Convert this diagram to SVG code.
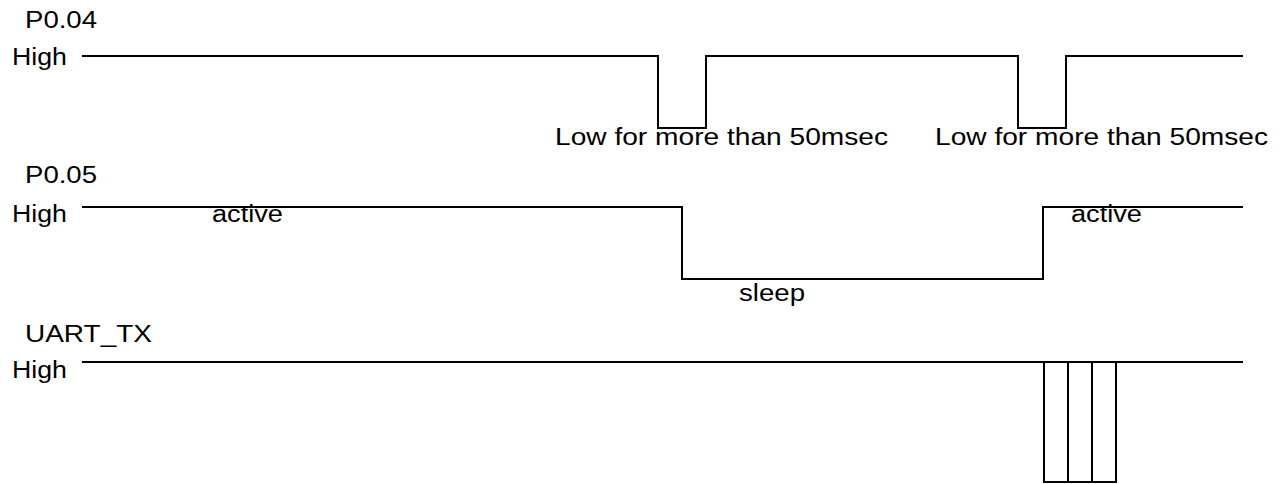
<svg xmlns="http://www.w3.org/2000/svg" width="1283" height="484" viewBox="0 0 1283 484">
  <style>
    .t { font-family: "Liberation Sans", Arial, sans-serif; font-size: 23px; fill: #000; }
    .w { fill: none; stroke: #000; stroke-width: 2; stroke-linejoin: miter; }
  </style>
  <rect width="1283" height="484" fill="#fff"/>
  <g id="sig-p004">
    <text class="t" x="25" y="28" textLength="72" lengthAdjust="spacingAndGlyphs">P0.04</text>
    <text class="t" x="12" y="65" textLength="55" lengthAdjust="spacingAndGlyphs">High</text>
    <path class="w" d="M82,56 H658 V128 H706 V56 H1018 V128 H1066 V56 H1243"/>
    <text class="t" x="555" y="145" textLength="333" lengthAdjust="spacingAndGlyphs">Low for more than 50msec</text>
    <text class="t" x="935" y="145" textLength="333" lengthAdjust="spacingAndGlyphs">Low for more than 50msec</text>
  </g>
  <g id="sig-p005">
    <text class="t" x="25" y="183" textLength="72" lengthAdjust="spacingAndGlyphs">P0.05</text>
    <text class="t" x="12" y="222" textLength="55" lengthAdjust="spacingAndGlyphs">High</text>
    <path class="w" d="M82,207 H682 V279 H1043 V207 H1243"/>
    <text class="t" x="212" y="222" textLength="71" lengthAdjust="spacingAndGlyphs">active</text>
    <text class="t" x="739" y="301" textLength="66" lengthAdjust="spacingAndGlyphs">sleep</text>
    <text class="t" x="1071" y="222" textLength="71" lengthAdjust="spacingAndGlyphs">active</text>
  </g>
  <g id="sig-uart">
    <text class="t" x="25" y="342" textLength="127" lengthAdjust="spacingAndGlyphs">UART_TX</text>
    <text class="t" x="12" y="378" textLength="55" lengthAdjust="spacingAndGlyphs">High</text>
    <path class="w" d="M82,362 H1243"/>
    <rect class="w" x="1044" y="362" width="72" height="120"/>
    <path class="w" d="M1068,362 V482 M1092,362 V482"/>
  </g>
</svg>
